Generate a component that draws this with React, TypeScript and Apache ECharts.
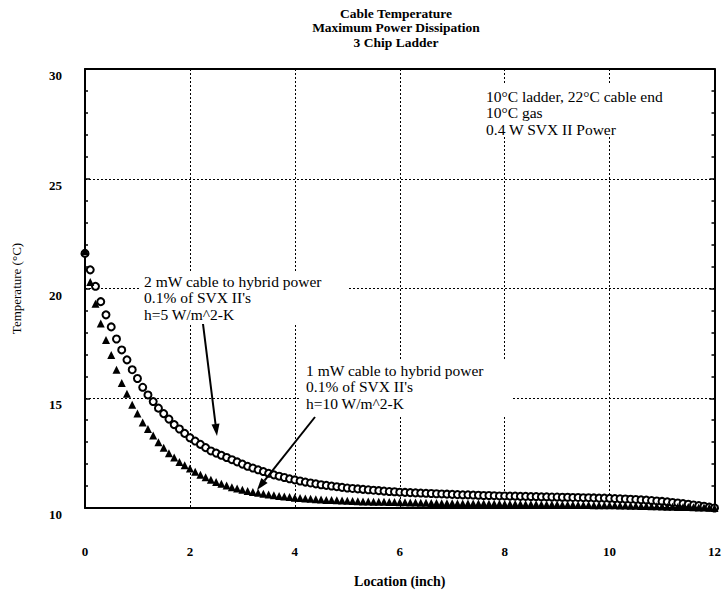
import React, { useEffect, useRef } from "react";
import * as echarts from "echarts";

// Location along the cable (inch)
const location = [
  0, 0.1, 0.2, 0.3, 0.4, 0.5, 0.6, 0.7, 0.8, 0.9,
  1, 1.1, 1.2, 1.3, 1.4, 1.5, 1.6, 1.7, 1.8, 1.9,
  2, 2.1, 2.2, 2.3, 2.4, 2.5, 2.6, 2.7, 2.8, 2.9,
  3, 3.1, 3.2, 3.3, 3.4, 3.5, 3.6, 3.7, 3.8, 3.9,
  4, 4.1, 4.2, 4.3, 4.4, 4.5, 4.6, 4.7, 4.8, 4.9,
  5, 5.1, 5.2, 5.3, 5.4, 5.5, 5.6, 5.7, 5.8, 5.9,
  6, 6.1, 6.2, 6.3, 6.4, 6.5, 6.6, 6.7, 6.8, 6.9,
  7, 7.1, 7.2, 7.3, 7.4, 7.5, 7.6, 7.7, 7.8, 7.9,
  8, 8.1, 8.2, 8.3, 8.4, 8.5, 8.6, 8.7, 8.8, 8.9,
  9, 9.1, 9.2, 9.3, 9.4, 9.5, 9.6, 9.7, 9.8, 9.9,
  10, 10.1, 10.2, 10.3, 10.4, 10.5, 10.6, 10.7, 10.8, 10.9,
  11, 11.1, 11.2, 11.3, 11.4, 11.5, 11.6, 11.7, 11.8, 11.9,
  12,
];

// 2 mW cable to hybrid power, h=5 W/m^2-K (open circles)
const temp2mW = [
  21.6, 20.85, 20.1, 19.4, 18.8, 18.25, 17.7, 17.2, 16.75, 16.3,
  15.9, 15.5, 15.15, 14.85, 14.55, 14.3, 14.05, 13.8, 13.6, 13.4,
  13.2, 13.05, 12.9, 12.75, 12.6, 12.5, 12.4, 12.3, 12.2, 12.1,
  12.0, 11.9, 11.82, 11.74, 11.66, 11.58, 11.51, 11.45, 11.39, 11.33,
  11.28, 11.23, 11.18, 11.14, 11.1, 11.06, 11.03, 11.0, 10.97, 10.94,
  10.91, 10.89, 10.87, 10.85, 10.83, 10.81, 10.79, 10.77, 10.75, 10.74,
  10.72, 10.71, 10.7, 10.69, 10.68, 10.67, 10.66, 10.65, 10.64, 10.63,
  10.62, 10.61, 10.6, 10.6, 10.59, 10.58, 10.57, 10.57, 10.56, 10.55,
  10.55, 10.54, 10.54, 10.53, 10.53, 10.52, 10.52, 10.51, 10.51, 10.5,
  10.5, 10.49, 10.49, 10.48, 10.48, 10.47, 10.47, 10.46, 10.45, 10.45,
  10.44, 10.43, 10.42, 10.41, 10.4, 10.39, 10.37, 10.36, 10.34, 10.32,
  10.3, 10.28, 10.25, 10.23, 10.2, 10.17, 10.14, 10.11, 10.08, 10.04,
  10.0,
];

// 1 mW cable to hybrid power, h=10 W/m^2-K (filled triangles)
const temp1mW = [
  21.7, 20.3, 19.3, 18.4, 17.65, 16.97, 16.3, 15.7, 15.2, 14.7,
  14.3, 13.9, 13.6, 13.3, 13.0, 12.75, 12.5, 12.3, 12.1, 11.95,
  11.8, 11.65, 11.52, 11.4, 11.29, 11.19, 11.1, 11.02, 10.95, 10.89,
  10.83, 10.78, 10.73, 10.69, 10.65, 10.61, 10.58, 10.55, 10.52, 10.5,
  10.47, 10.45, 10.43, 10.42, 10.4, 10.39, 10.37, 10.36, 10.35, 10.34,
  10.33, 10.32, 10.31, 10.3, 10.3, 10.29, 10.28, 10.28, 10.27, 10.27,
  10.26, 10.26, 10.25, 10.25, 10.24, 10.24, 10.23, 10.23, 10.22, 10.22,
  10.22, 10.21, 10.21, 10.21, 10.2, 10.2, 10.2, 10.19, 10.19, 10.19,
  10.18, 10.18, 10.18, 10.18, 10.17, 10.17, 10.17, 10.16, 10.16, 10.16,
  10.16, 10.15, 10.15, 10.15, 10.14, 10.14, 10.14, 10.13, 10.13, 10.13,
  10.12, 10.12, 10.11, 10.11, 10.1, 10.1, 10.09, 10.09, 10.08, 10.08,
  10.07, 10.06, 10.06, 10.05, 10.04, 10.04, 10.03, 10.02, 10.02, 10.01,
  10.0,
];

const titleLines = ["Cable Temperature", "Maximum Power Dissipation", "3 Chip Ladder"];
const conditionsNote = ["10°C ladder, 22°C cable end", "10°C gas", "0.4 W SVX II Power"];
const note2mW = ["2 mW cable to hybrid power", "0.1% of SVX II's", "h=5 W/m^2-K"];
const note1mW = ["1 mW cable to hybrid power", "0.1% of SVX II's", "h=10 W/m^2-K"];

const FONT = "'Liberation Serif', 'Times New Roman', serif";

function arrow(x1: number, y1: number, x2: number, y2: number) {
  const dx = x2 - x1;
  const dy = y2 - y1;
  const len = Math.sqrt(dx * dx + dy * dy);
  const ux = dx / len;
  const uy = dy / len;
  const hl = 12;
  const hw = 4;
  const bx = x2 - ux * hl;
  const by = y2 - uy * hl;
  return [
    {
      type: "line",
      z: 100,
      shape: { x1, y1, x2: bx, y2: by },
      style: { stroke: "#000", lineWidth: 2 },
    },
    {
      type: "polygon",
      z: 100,
      shape: {
        points: [
          [x2, y2],
          [bx - uy * hw, by + ux * hw],
          [bx + uy * hw, by - ux * hw],
        ],
      },
      style: { fill: "#000" },
    },
  ];
}

export default function App() {
  const ref = useRef<HTMLDivElement>(null);

  useEffect(() => {
    document.body.style.margin = "0";
    if (!ref.current) return;
    const chart = echarts.init(ref.current, null, { renderer: "svg" });

    const dotted = { color: "#000", width: 1, type: [2, 2] as any };

    const option: any = {
      animation: false,
      backgroundColor: "#fff",
      grid: { left: 85, right: 9, top: 69, bottom: 88, containLabel: false },
      xAxis: [
        {
          type: "value",
          min: 0,
          max: 12,
          interval: 2,
          name: "Location (inch)",
          nameLocation: "middle",
          nameGap: 66,
          nameTextStyle: { fontFamily: FONT, fontSize: 14, fontWeight: "bold", color: "#000" },
          axisLine: { show: true, lineStyle: { color: "#000", width: 2 } },
          axisTick: { show: false },
          axisLabel: {
            margin: 37,
            fontFamily: FONT,
            fontSize: 13,
            fontWeight: "bold",
            color: "#000",
          },
          splitLine: { show: true, lineStyle: dotted },
        },
        {
          type: "value",
          position: "top",
          min: 0,
          max: 12,
          interval: 2,
          axisLine: { show: true, onZero: false, lineStyle: { color: "#000", width: 2 } },
          axisTick: { show: false },
          axisLabel: { show: false },
          splitLine: { show: false },
        },
      ],
      yAxis: [
        {
          type: "value",
          min: 10,
          max: 30,
          interval: 5,
          name: "Temperature (°C)",
          nameLocation: "middle",
          nameGap: 62,
          nameRotate: 90,
          nameTextStyle: { fontFamily: FONT, fontSize: 13, color: "#000" },
          axisLine: { show: true, lineStyle: { color: "#000", width: 2 } },
          axisTick: { show: true, inside: true, length: 5, lineStyle: { color: "#000", width: 1.5 } },
          minorTick: { show: true, splitNumber: 5, length: 3, lineStyle: { color: "#000", width: 1.5 } },
          axisLabel: {
            margin: 23,
            fontFamily: FONT,
            fontSize: 13,
            fontWeight: "bold",
            color: "#000",
            verticalAlign: "top",
          },
          splitLine: { show: true, lineStyle: dotted },
        },
        {
          type: "value",
          position: "right",
          min: 10,
          max: 30,
          interval: 5,
          axisLine: { show: true, onZero: false, lineStyle: { color: "#000", width: 2 } },
          axisTick: { show: true, inside: true, length: 5, lineStyle: { color: "#000", width: 1.5 } },
          minorTick: { show: true, splitNumber: 5, length: 3, lineStyle: { color: "#000", width: 1.5 } },
          axisLabel: { show: false },
          splitLine: { show: false },
        },
      ],
      series: [
        {
          name: "2 mW, h=5",
          type: "scatter",
          xAxisIndex: 0,
          yAxisIndex: 0,
          symbol: "circle",
          symbolSize: 7,
          itemStyle: { color: "#fff", borderColor: "#000", borderWidth: 2, opacity: 1 },
          data: location.map((x, i) => [x, temp2mW[i]]),
          z: 3,
        },
        {
          name: "1 mW, h=10",
          type: "scatter",
          xAxisIndex: 0,
          yAxisIndex: 0,
          symbol: "triangle",
          symbolSize: 8,
          itemStyle: { color: "#000", opacity: 1 },
          data: location.map((x, i) => [x, temp1mW[i]]),
          z: 4,
        },
      ],
      graphic: [
        {
          type: "text",
          z: 100,
          x: 396,
          y: 6,
          style: {
            text: titleLines.join("\n"),
            fill: "#000",
            font: `bold 13.5px ${FONT}`,
            lineHeight: 14.5,
            align: "center",
          },
        },
        { type: "rect", z: 90, shape: { x: 480, y: 84, width: 224, height: 52 }, style: { fill: "#fff" } },
        { type: "rect", z: 90, shape: { x: 139, y: 271, width: 210, height: 52 }, style: { fill: "#fff" } },
        { type: "rect", z: 90, shape: { x: 300, y: 360, width: 213, height: 57 }, style: { fill: "#fff" } },
        {
          type: "text",
          z: 100,
          x: 486,
          y: 88,
          style: { text: conditionsNote.join("\n"), fill: "#000", font: `15.5px ${FONT}`, lineHeight: 16.5 },
        },
        {
          type: "text",
          z: 100,
          x: 144,
          y: 273,
          style: { text: note2mW.join("\n"), fill: "#000", font: `15.5px ${FONT}`, lineHeight: 16.5 },
        },
        {
          type: "text",
          z: 100,
          x: 306,
          y: 362,
          style: { text: note1mW.join("\n"), fill: "#000", font: `15.5px ${FONT}`, lineHeight: 16.5 },
        },
        ...arrow(203, 324, 217, 436),
        ...arrow(315, 417, 257, 490),
      ],
    };

    chart.setOption(option);
    return () => chart.dispose();
  }, []);

  return <div ref={ref} style={{ width: 724, height: 596 }} />;
}
